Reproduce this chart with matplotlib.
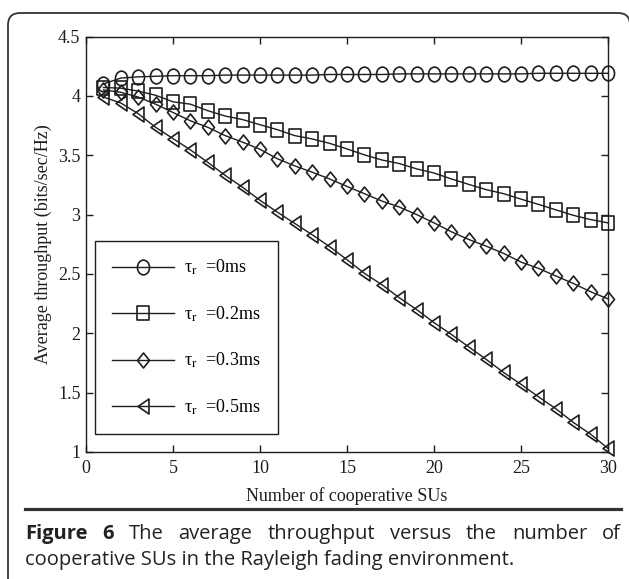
import matplotlib
matplotlib.use('Agg')
import matplotlib.pyplot as plt
from matplotlib.markers import MarkerStyle
from matplotlib.transforms import Affine2D, IdentityTransform
from matplotlib.patches import FancyBboxPatch
from matplotlib.lines import Line2D
from matplotlib.ticker import FormatStrFormatter

# values
n_su = list(range(1, 31))
tau_0 = [4.10, 4.15, 4.16, 4.165, 4.17, 4.17, 4.17, 4.175, 4.175, 4.175,
         4.175, 4.175, 4.175, 4.18, 4.18, 4.18, 4.18, 4.185, 4.185, 4.185,
         4.185, 4.185, 4.185, 4.185, 4.185, 4.19, 4.19, 4.19, 4.19, 4.19]
tau_02 = [4.07, 4.065, 4.04, 4.005, 3.95, 3.93, 3.875, 3.83, 3.80, 3.757,
          3.715, 3.665, 3.637, 3.60, 3.553, 3.503, 3.46, 3.43, 3.385, 3.35,
          3.30, 3.254, 3.21, 3.176, 3.13, 3.086, 3.04, 2.994, 2.958, 2.93]
tau_03 = [4.05, 4.03, 3.99, 3.93, 3.86, 3.79, 3.735, 3.665, 3.61, 3.55,
          3.47, 3.41, 3.357, 3.30, 3.237, 3.176, 3.114, 3.064, 3.0, 2.93,
          2.855, 2.79, 2.734, 2.673, 2.60, 2.547, 2.483, 2.42, 2.35, 2.29]
tau_05 = [3.99, 3.94, 3.85, 3.735, 3.64, 3.545, 3.44, 3.33, 3.23, 3.12,
          3.02, 2.925, 2.83, 2.73, 2.62, 2.505, 2.41, 2.30, 2.20, 2.09,
          1.99, 1.885, 1.78, 1.67, 1.57, 1.465, 1.365, 1.25, 1.15, 1.03]
series = [tau_0, tau_02, tau_03, tau_05]
labels = [r'τ$_{\mathrm{r}}$  =0ms', r'τ$_{\mathrm{r}}$  =0.2ms',
          r'τ$_{\mathrm{r}}$  =0.3ms', r'τ$_{\mathrm{r}}$  =0.5ms']
xticks = [0, 5, 10, 15, 20, 25, 30]
yticks = [1, 1.5, 2, 2.5, 3, 3.5, 4, 4.5]

caption1 = [('Figure', True), ('6', True), ('The', False), ('average', False),
            ('throughput', False), ('versus', False), ('the', False),
            ('number', False), ('of', False)]
caption2 = 'cooperative SUs in the Rayleigh fading environment.'

plt.rcParams['font.family'] = 'Liberation Serif'
plt.rcParams['mathtext.fontset'] = 'stix'

INK = '#1e1e1e'
W, H = 629, 579


def stretched(m, sx, sy):
    ms = MarkerStyle(m)
    p = ms.get_path().transformed(ms.get_transform())
    return p.transformed(Affine2D().scale(sx, sy))


markers = [(stretched('o', 0.82, 1), 10.6),
           (stretched('s', 0.92, 1), 9.6),
           (stretched('D', 0.80, 1), 10.8),
           (stretched('<', 0.73, 1), 10.8)]

fig = plt.figure(figsize=(W / 100, H / 100), dpi=100)
ax = fig.add_axes([86 / W, 1 - 452 / H, (608 - 86) / W, (452 - 36.5) / H])

for ys, (mk, sz), lab in zip(series, markers, labels):
    ax.plot(n_su, ys, color=INK, lw=1.0, marker=mk, ms=sz, mfc='none',
            mec=INK, mew=1.2, label=lab, clip_on=False)

ax.set_xlim(0, 30)
ax.set_ylim(1, 4.5)
ax.set_xticks(xticks)
ax.set_yticks(yticks)
ax.yaxis.set_major_formatter(FormatStrFormatter('%g'))
ax.tick_params(direction='in', top=True, right=True, length=5, width=1,
               labelsize=13, pad=4, colors=INK)
ax.tick_params(axis='x', pad=6)
for s in ax.spines.values():
    s.set_linewidth(1.0)
    s.set_color(INK)

ax.set_xlabel('Number of cooperative SUs', fontsize=13, color=INK, labelpad=7)
ax.set_ylabel('Average throughput (bits/sec/Hz)', fontsize=13, color=INK)
ax.yaxis.set_label_coords((52 - 86) / 522, 0.5)

leg = ax.legend(loc='lower left', bbox_to_anchor=(9 / 522, 18 / 415.5),
                borderaxespad=0, fontsize=13, handlelength=3.4,
                handletextpad=0.6, labelspacing=1.5, borderpad=0.95,
                fancybox=False, edgecolor=INK, framealpha=1)
leg.get_frame().set_linewidth(1.0)

# page border and rule
border = FancyBboxPatch((8, -30), 622, H - 13 + 30,
                        boxstyle='round,pad=0,rounding_size=12',
                        transform=IdentityTransform(), fill=False,
                        ec='#333333', lw=1.3)
fig.add_artist(border)
fig.add_artist(Line2D([25 / W, 621 / W], [1 - 509 / H] * 2,
                      transform=fig.transFigure, color='#333333', lw=2.3))

# caption, first line justified
renderer = fig.canvas.get_renderer()
cap_font = 'Open Sans'
t2 = fig.text(25 / W, 1 - 565 / H, caption2, fontsize=11, family=cap_font,
              color='#222222', va='baseline')
w2 = t2.get_window_extent(renderer).width
size = 11 * 490 / w2
t2.set_fontsize(size)

words = []
for w, bold in caption1:
    t = fig.text(0, 1 - 539 / H, w, fontsize=size, family=cap_font,
                 fontweight='bold' if bold else 'normal', color='#222222',
                 va='baseline')
    words.append(t)
widths = [t.get_window_extent(renderer).width for t in words]
gap = (596 - sum(widths)) / (len(words) - 1)
x = 25
for t, wd in zip(words, widths):
    t.set_x(x / W)
    x += wd + gap

fig.savefig('out.png', dpi=100)
